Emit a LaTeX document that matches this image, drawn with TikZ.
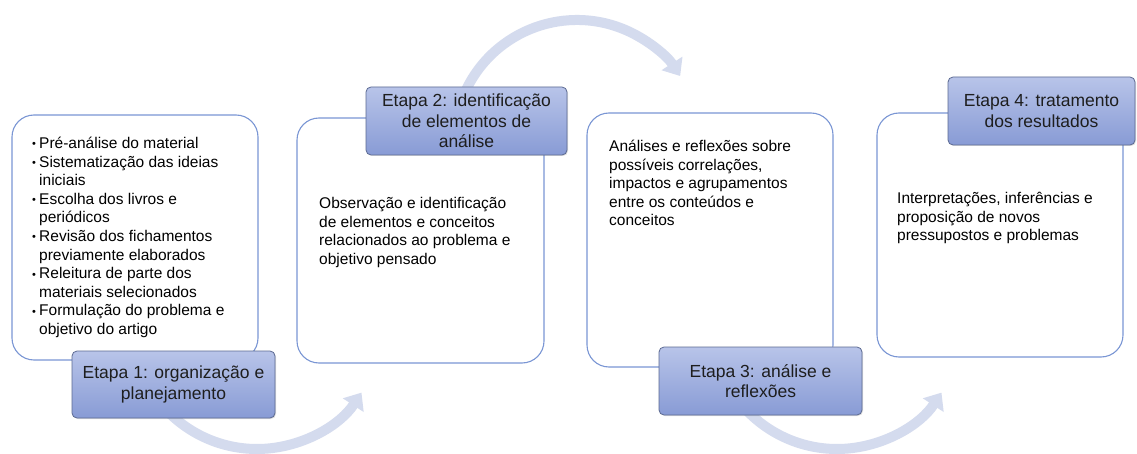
\documentclass[tikz,border=0pt]{standalone}
\usepackage{fontspec}
\setmainfont{Liberation Sans}
\usetikzlibrary{arrows.meta,shadows}
\definecolor{arcc}{RGB}{212,219,238}
\definecolor{boxc}{RGB}{122,150,212}
\definecolor{labtop}{RGB}{184,196,233}
\definecolor{labbot}{RGB}{136,155,213}
\definecolor{labdraw}{RGB}{92,106,146}
\definecolor{labtext}{RGB}{30,30,30}
\newcommand{\bul}{\makebox[7pt][l]{\fontsize{11}{11}\selectfont\raisebox{0.5pt}{•}}}
\newcommand{\ind}{\hspace*{7pt}}
\begin{document}
\begin{tikzpicture}[x=1pt,y=1pt,
  stagebox/.style={draw=boxc, line width=1.1pt, fill=white, rounded corners=22pt, inner sep=0pt},
  stagelab/.style={draw=labdraw, line width=0.8pt, rounded corners=5pt, top color=labtop, bottom color=labbot,
    align=center, inner sep=0pt, text=labtext, font=\fontsize{17.5}{20.5}\selectfont,
    drop shadow={opacity=0.25, shadow xshift=1pt, shadow yshift=-1pt}},
  flow/.style={draw=arcc, line width=10pt, -{Triangle[width=24pt,length=15pt]}},
  body/.style={anchor=base west, inner sep=0pt, text=black, font=\fontsize{15.5}{18.6}\selectfont}
]
\useasboundingbox (0,0) rectangle (1137,-454);
\fill[white] (0,0) rectangle (1137,-454);

% curved flow arrows (behind everything)
\coordinate (c1) at (257,-324);
\coordinate (c2) at (577,-143);
\coordinate (c3) at (837,-324);
\draw[flow] (c1) ++(215:125) arc[start angle=215, end angle=326.7, radius=125];
\draw[flow] (c2) ++(155:123) arc[start angle=155, end angle=33, radius=123];
\draw[flow] (c3) ++(215:125) arc[start angle=215, end angle=326.7, radius=125];

% stage boxes
\node[stagebox, minimum width=246pt, minimum height=245pt] (b1) at (135,-237.5) {};
\node[stagebox, minimum width=247pt, minimum height=245pt] (b2) at (420.5,-240.5) {};
\node[stagebox, minimum width=246pt, minimum height=254pt] (b3) at (710,-240) {};
\node[stagebox, minimum width=246pt, minimum height=244pt] (b4) at (1000,-235) {};

% body texts
\node[body] (t1) at (32,-148.5) {\parbox[t]{230pt}{\raggedright
\bul Pré-análise do material\\
\bul Sistematização das ideias\\
\ind iniciais\\
\bul Escolha dos livros e\\
\ind periódicos\\
\bul Revisão dos fichamentos\\
\ind previamente elaborados\\
\bul Releitura de parte dos\\
\ind materiais selecionados\\
\bul Formulação do problema e\\
\ind objetivo do artigo}};
\node[body] (t2) at (319,-208.5) {\parbox[t]{220pt}{\raggedright
Observação e identificação\\
de elementos e conceitos\\
relacionados ao problema e\\
objetivo pensado}};
\node[body] (t3) at (609,-151.5) {\parbox[t]{220pt}{\raggedright
Análises e reflexões sobre\\
possíveis correlações,\\
impactos e agrupamentos\\
entre os conteúdos e\\
conceitos}};
\node[body] (t4) at (897,-203.5) {\parbox[t]{220pt}{\raggedright
Interpretações, inferências e\\
proposição de novos\\
pressupostos e problemas}};

% stage labels
\node[stagelab, minimum width=203pt, minimum height=67pt] (l1) at (173.5,-384.5) {Etapa 1: organização e\\planejamento};
\node[stagelab, minimum width=201pt, minimum height=68pt] (l2) at (466.5,-121) {Etapa 2: identificação\\de elementos de\\análise};
\node[stagelab, minimum width=203pt, minimum height=68pt] (l3) at (760.5,-381) {Etapa 3: análise e\\reflexões};
\node[stagelab, minimum width=187pt, minimum height=68pt] (l4) at (1041.5,-111) {Etapa 4: tratamento\\dos resultados};
\end{tikzpicture}
\end{document}
